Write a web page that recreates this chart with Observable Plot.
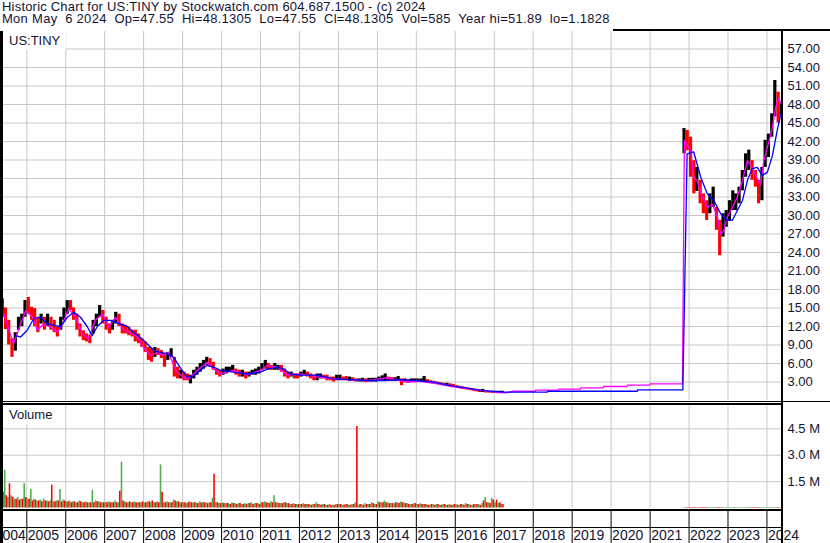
<!DOCTYPE html>
<html><head><meta charset="utf-8">
<script src="https://cdn.jsdelivr.net/npm/d3@7"></script>
<script src="https://cdn.jsdelivr.net/npm/@observablehq/plot@0.6"></script>
<style>
body{margin:0;background:#fff;font-family:"Liberation Sans",Arial,sans-serif;}
#wrap{position:relative;width:830px;height:543px;overflow:hidden;background:#fff;}
#title{position:absolute;left:2px;top:1px;font-size:13px;line-height:12px;white-space:pre;color:#141432;z-index:5;}
#title span{display:block;height:12px;line-height:12px;overflow:visible;}
#cover{position:absolute;left:0;top:0;width:613px;height:31px;background:#fff;z-index:4;}
.abs{position:absolute;left:0;}
.ln{position:absolute;background:#000;z-index:2;}
.lbl{position:absolute;font-size:13px;line-height:13px;color:#141432;background:#fff;z-index:3;white-space:pre;}
</style></head>
<body><div id="wrap">
<div id="cover"></div>
<div id="title"><span id="t1" style="letter-spacing:0.2px"></span><span id="t2" style="letter-spacing:0.28px"></span></div>
<div id="price" class="abs" style="top:30px"></div>
<div id="vol" class="abs" style="top:403px"></div>
<div id="years" class="abs" style="top:510px"></div>
<div class="ln" style="left:0;top:29px;width:830px;height:2px"></div>
<div class="ln" style="left:0;top:29px;width:3px;height:514px"></div>
<div class="ln" style="left:781px;top:29px;width:2px;height:514px"></div>
<div class="ln" style="left:0;top:400.5px;width:830px;height:1.5px"></div>
<div class="ln" style="left:0;top:403.3px;width:782px;height:1.4px"></div>
<div class="ln" style="left:0;top:508.5px;width:782px;height:2px"></div>
<div class="ln" style="left:0;top:526.7px;width:782px;height:1.3px"></div>
<div id="tick" class="lbl" style="left:3px;top:31px;padding:3px 6px 3px 6px"></div>
<div id="vlab" class="lbl" style="left:3px;top:405px;padding:3px 6px 3px 6px"></div>
</div>
<script>
// ---------- texts ----------
const titleLine1 = "Historic Chart for US:TINY by Stockwatch.com 604.687.1500 - (c) 2024";
const titleLine2 = "Mon May  6 2024  Op=47.55  Hi=48.1305  Lo=47.55  Cl=48.1305  Vol=585  Year hi=51.89  lo=1.1828";
const tickerLabel = "US:TINY";
const volumeLabel = "Volume";
const yearLabels = ["2004","2005","2006","2007","2008","2009","2010","2011","2012","2013","2014","2015","2016","2017","2018","2019","2020","2021","2022","2023","2024"];
const priceTicks = [3,6,9,12,15,18,21,24,27,30,33,36,39,42,45,48,51,54,57];
const volTicks = [1.5,3.0,4.5];

// ---------- monthly price data, segment A: 2004-05 .. 2017-03 ----------
const highA = [
16.5,15,13,10,11,13.5,14,16.2,
16.7,15.1,14.9,13.5,14,13.5,14,13.5,13,11.9,13.5,15,
16.2,16.2,15,14,12.4,11.3,10.8,10.5,13,14,15.4,14.6,
13.5,12.4,13,14.3,14,12.4,12.2,11.9,11.4,11.4,10.8,10,
9.5,8.6,8.4,8.6,8.4,8.1,7.6,7.8,8.4,7,5.4,4.9,
4.6,4.3,4.1,4.9,5.4,6,6.5,7,6.8,6.2,5.1,4.9,
5.1,5.4,5.4,5.7,5.1,4.9,4.9,4.6,4.6,4.9,5.1,5.4,
6,6.5,6,5.7,6,5.7,5.7,5.1,4.6,4.6,4.3,4.3,
4.6,4.9,4.6,4.3,4.1,4.3,4.3,4.1,4.1,3.8,3.8,4.1,
4.1,3.8,3.9,3.8,3.7,3.5,3.5,3.6,3.5,3.6,3.6,3.6,
3.8,4.0,4.3,3.8,3.7,3.7,3.9,3.5,3.5,3.4,3.5,3.5,
3.5,3.5,3.9,3.4,3.2,3.1,3.0,2.9,2.8,2.8,2.7,2.6,
2.4,2.3,2.2,2.1,2.0,1.9,1.8,1.7,1.8,1.6,1.5,1.5,
1.5,1.5,1.5];
const lowA = [
13.5,11.5,9,7,8,11.4,12,13.5,
14,13,12,11,12.4,11.4,12,11.4,11,10.3,11.4,13,
14,14.6,13,11.4,10.3,9.7,9.5,9.2,10.8,12,13.5,12.4,
11.4,10.8,11.4,12.4,12,10.8,10.8,10.5,10.3,9.5,9.2,8.6,
7.8,6.5,6.2,7,7.3,6.8,5.4,6.5,7,3.8,3.5,3.5,
3.2,3.2,2.7,3.5,4.1,4.6,5.1,5.7,5.4,4.9,4.1,3.8,
4.1,4.3,4.6,4.6,4.1,3.8,3.8,3.5,3.8,4.1,4.1,4.3,
4.9,5.1,4.9,4.9,4.9,4.9,4.6,3.8,3.5,3.8,3.5,3.5,
3.8,4.1,3.8,3.5,3.2,3.2,3.5,3.5,3.2,3.2,3.0,3.2,
3.2,3.2,3.2,3.1,3.1,3.0,3.0,3.0,2.9,3.0,3.0,3.0,
3.1,3.2,3.2,3.2,3.1,3.1,3.1,2.4,2.9,2.8,2.9,2.9,
3.0,3.0,3.0,2.9,2.8,2.7,2.6,2.5,2.4,2.4,2.3,2.2,
2.0,1.9,1.8,1.7,1.6,1.5,1.4,1.3,1.3,1.2,1.2,1.18,
1.2,1.2,1.2];
const closeA = [
14.5,12,10,8,10.5,13,13.5,15,
14.5,13.5,13,12,13.5,12.5,13.5,12.5,12,11,12.5,14.5,
15.5,15,14,12.5,11,10.5,10,9.7,12.5,13.5,14.8,13,
12.5,11.5,12.5,13.5,12.5,11.5,11.3,11,10.8,10,9.5,9,
8.5,7.2,7,8,7.8,7.3,6.3,7,7.8,5,4,4.2,
3.8,3.5,3.5,4.3,4.8,5.5,6,6.5,6,5.5,4.5,4.3,
4.6,5,5,5.2,4.6,4.3,4.3,4,4.2,4.5,4.7,5,
5.4,5.8,5.3,5.2,5.3,5.3,5.2,4.4,4,4.2,3.9,3.8,
4.2,4.5,4.2,3.9,3.6,3.8,3.9,3.8,3.7,3.5,3.3,3.6,
3.6,3.5,3.4,3.4,3.3,3.2,3.3,3.3,3.2,3.3,3.3,3.3,
3.4,3.6,3.7,3.5,3.4,3.4,3.5,3.1,3.2,3.1,3.2,3.2,
3.2,3.2,3.3,3.1,3.0,2.9,2.8,2.7,2.6,2.6,2.5,2.4,
2.2,2.1,2.0,1.9,1.8,1.7,1.6,1.5,1.5,1.4,1.3,1.3,
1.3,1.3,1.3];
// ---------- monthly price data, segment B: 2021-11 .. 2024-05 ----------
const highB = [44.1,43.8, 42.7,38.9,37.8,35.7,33.5,32.4,33.5,34.6,31.3,29.2,30.3,30.8,
 32.4,34,33.5,34.6,37.3,40,40.6,38.9,37.3,35.7,37.8,42.2, 43.2,46.5,51.89,50,48.13];
const lowB = [40,40.5, 36.2,33.5,33.9,31.9,30.3,29.2,30.3,31.3,27.6,23.5,26.5,28.1,
 29.2,30.8,30.8,31.9,34,36.2,37.3,35.7,34.6,31.9,32.4,37.8, 39.4,42.7,46,45,46];
const closeB = [43,42, 37,35,36,33,31,30,32,33,28,26,29,29,
 31,32,32,33,36,39,39,37,35,33,36,40, 42,45,48,46,48.13];

// ---------- monthly volume (millions) ----------
const volGreenA = [
0.8,2.15,0.6,0.7,0.5,0.6,0.5,1.38,
0.5,1.05,0.5,0.4,0.45,0.5,0.4,0.4,0.35,0.4,1.05,0.45,
0.35,0.4,0.35,0.3,0.4,0.3,0.35,0.3,1.0,0.4,0.35,0.3,
0.3,0.35,0.3,0.4,0.3,2.6,0.35,0.3,0.3,0.35,0.3,0.3,
0.3,0.35,0.3,0.3,0.35,2.45,0.3,0.35,0.3,0.45,0.35,0.3,
0.3,0.25,0.35,0.3,0.3,0.35,0.3,0.3,0.3,0.55,0.3,0.25,
0.3,0.25,0.25,0.3,0.25,0.25,0.2,0.25,0.25,0.3,0.25,0.25,
0.3,0.35,0.3,0.35,0.7,0.3,0.25,0.3,0.25,0.2,0.25,0.2,
0.2,0.25,0.2,0.2,0.2,0.3,0.2,0.2,0.15,0.2,0.15,0.2,
0.2,0.15,0.2,0.15,0.2,0.3,0.15,0.2,0.25,0.2,0.3,0.2,
0.35,0.3,0.4,0.3,0.25,0.25,0.3,0.35,0.3,0.25,0.2,0.25,
0.2,0.25,0.2,0.2,0.15,0.2,0.2,0.15,0.2,0.15,0.2,0.15,
0.2,0.15,0.2,0.25,0.2,0.15,0.2,0.2,0.25,0.6,0.3,0.55,
0.3,0.25,0.2];
const volRedA = [
0.9,0.7,1.38,0.6,0.5,0.45,0.5,0.6,
0.5,0.4,0.45,0.4,0.35,0.4,0.35,1.3,0.35,0.4,0.35,0.4,
0.35,0.3,0.35,0.3,0.35,0.3,0.3,0.3,0.3,0.35,0.3,0.3,
0.3,0.3,0.3,0.3,0.95,0.4,0.3,0.35,0.3,0.3,0.3,0.35,
0.3,0.35,0.4,0.3,0.3,0.9,0.3,0.3,0.3,0.4,0.35,0.3,
0.3,0.3,0.3,0.3,0.25,0.3,0.3,0.25,0.3,1.92,0.3,0.25,
0.25,0.25,0.2,0.25,0.2,0.25,0.2,0.2,0.25,0.2,0.25,0.2,
0.3,0.3,0.25,0.3,0.3,0.25,0.25,0.3,0.25,0.2,0.2,0.2,
0.2,0.2,0.2,0.15,0.2,0.2,0.15,0.2,0.15,0.15,0.15,0.2,
0.2,0.15,0.2,0.15,0.2,4.63,0.2,0.15,0.2,0.2,0.25,0.2,
0.3,0.3,0.3,0.25,0.25,0.3,0.25,0.3,0.25,0.2,0.2,0.25,
0.2,0.2,0.2,0.15,0.2,0.15,0.2,0.15,0.2,0.15,0.15,0.2,
0.15,0.2,0.15,0.2,0.15,0.2,0.2,0.15,0.4,0.3,0.25,0.45,
0.45,0.3,0.2];
const volB = [0.03,0.03,0.03,0.03,0.03,0.03,0.03,0.03,0.03,0.03,0.03,0.03,0.03,0.03,0.03,0.03,
0.03,0.03,0.03,0.03,0.03,0.03,0.03,0.03,0.03,0.03,0.03,0.03,0.03,0.03,0.03];

// ---------- moving averages (decimal year, value) ----------
const maFastT = [2004.41,2004.66,2004.97,2005.15,2005.27,2005.43,2005.61,2005.79,2005.92,2006.07,2006.25,2006.43,2006.58,2006.76,2006.94,
2007.10,2007.28,2007.46,2007.61,2007.84,2008.00,2008.18,2008.36,2008.51,2008.64,2008.82,2009.00,2009.15,2009.38,2009.64,2009.79,2009.97,
2010.30,2010.66,2011.00,2011.18,2011.44,2011.69,2012.03,2012.47,2012.88,2013.75,2014.26,2014.77,2015.10,2015.44,2015.88,2016.31,2016.72,
2017.08,2017.30,2017.49,2018.05,2018.06,2018.64,2018.65,2019.21,2019.22,2019.80,2019.81,2020.41,2020.42,2020.98,2020.99,2021.83,
2021.88,2022.04,2022.12,2022.21,2022.34,2022.47,2022.60,2022.73,2022.81,2022.89,2022.98,2023.11,2023.24,2023.37,2023.50,2023.62,
2023.75,2023.84,2023.92,2024.01,2024.14,2024.22,2024.30,2024.38];
const maFastV = [14,9.2,14.6,13.5,11.4,12.4,11.9,11.1,12.4,14.9,13.5,10.8,10,13,14,
11.9,13.5,11.6,11.1,10.3,8.6,7.3,7.8,7.3,7.8,4.9,3.8,3.5,4.9,6.2,5.1,4.3,
4.9,4.1,4.9,5.7,5.4,4.1,4.3,3.8,3.5,3.2,3.7,3.0,3.1,2.8,2.3,1.9,1.6,
1.3,1.25,1.5,1.5,1.67,1.67,1.83,1.83,2.06,2.06,2.27,2.27,2.48,2.48,2.7,2.7,
42.2,40.5,36.2,35.6,33,31.3,31.8,29.7,27,27.5,29.7,31.3,33,35.6,38.9,37.8,
36,35,38.9,41,44.3,47.5,49,48];
const maSlowT = [2004.71,2004.84,2005.01,2005.18,2005.35,2005.52,2005.69,2005.87,2006.04,2006.21,2006.38,2006.55,2006.68,2006.81,2006.98,
2007.15,2007.41,2007.58,2007.75,2007.92,2008.09,2008.26,2008.43,2008.60,2008.77,2008.95,2009.12,2009.29,2009.46,2009.63,2009.80,2009.97,
2010.31,2010.66,2011.00,2011.17,2011.43,2011.60,2011.77,2012.03,2012.46,2012.88,2013.31,2013.74,2014.17,2014.59,2015.02,
2015.44,2015.87,2016.31,2016.72,2017.26,2018.36,2018.37,2020.67,2020.68,2021.84,2021.95,2022.12,
2022.30,2022.47,2022.64,2022.81,2022.98,2023.11,2023.24,2023.37,2023.50,2023.62,2023.75,2023.88,2024.01,2024.14,2024.27,2024.36];
const maSlowV = [10.5,10.3,11.4,13.3,13.5,12.5,12.2,12,13.5,14.3,13.5,12,10.5,12,13,
13,12.4,12,11,10.2,9.2,8.1,7.8,7.6,7,5.2,3.8,4,4.9,5.7,5.4,4.9,
4.6,4.3,4.6,5.1,5.4,5.1,4.3,4.1,4.1,3.5,3.4,3.24,3.24,3.4,3.2,
3.0,2.4,2.0,1.6,1.35,1.35,1.5,1.5,1.73,1.73,40.0,40.3,
36.2,33.5,32.4,30.3,29.2,29.2,30.8,32.4,35.7,37.6,37.8,36.5,37,39.7,44,46.5];

// ---------- build tables ----------
const ink = "#141432";
const fy = t => { const y = Math.floor(t), a = Date.UTC(y,0,1), b = Date.UTC(y+1,0,1); return new Date(a + (t - y) * (b - a)); };
const midMonths = (y, m, n) => d3.range(n).map(i => d3.utcDay.offset(new Date(Date.UTC(y, m + i, 1)), 14));
const monthsA = midMonths(2004, 4, closeA.length);
const monthsB = midMonths(2021, 10, closeB.length);
const bars = [];
monthsA.forEach((d, i) => bars.push({date: d, hi: highA[i], lo: lowA[i], up: i === 0 || closeA[i] >= closeA[i-1]}));
monthsB.forEach((d, i) => bars.push({date: d, hi: highB[i], lo: lowB[i], up: i === 0 || closeB[i] >= closeB[i-1]}));
const volG = monthsA.map((d, i) => ({date: d, v: volGreenA[i]}));
const volR = monthsA.map((d, i) => ({date: d, v: volRedA[i]}));
const volLate = monthsB.map((d, i) => ({date: d, v: volB[i], c: (i === 0 || closeB[i] >= closeB[i-1]) ? "#4caf50" : "#ff0000"}));
const maFast = maFastT.map((t, i) => ({date: fy(t), v: maFastV[i]}));
const maSlow = maSlowT.map((t, i) => ({date: fy(t), v: maSlowV[i]}));
const yearStarts = yearLabels.map(y => new Date(Date.UTC(+y, 0, 1)));
const gridYears = yearStarts.slice(1);

const xDomain = [new Date(Date.UTC(2004,4,18)), new Date(Date.UTC(2024,4,26))];
const common = {width: 830, marginLeft: 2, marginRight: 48,
  x: {type: "utc", domain: xDomain, axis: null},
  style: {fontSize: "13px", fontFamily: "Liberation Sans, Arial, sans-serif", color: ink, background: "transparent", overflow: "hidden"}};

document.getElementById("t1").textContent = titleLine1;
document.getElementById("t2").textContent = titleLine2;
document.getElementById("tick").textContent = tickerLabel;
document.getElementById("vlab").textContent = volumeLabel;

const price = Plot.plot({...common, height: 373, marginTop: 0, marginBottom: 3,
  y: {domain: [0, 60], axis: null},
  marks: [
    Plot.ruleY(priceTicks, {stroke: "#c8c8c8", strokeWidth: 1}),
    Plot.ruleX(gridYears, {stroke: "#c8c8c8", strokeWidth: 1}),
    Plot.ruleX(bars, {x: "date", y1: "lo", y2: "hi", stroke: d => d.up ? "#000000" : "#ff0000", strokeWidth: 3.2}),
    Plot.line(maFast, {x: "date", y: "v", stroke: "#ff00ff", strokeWidth: 1.3}),
    Plot.line(maSlow, {x: "date", y: "v", stroke: "#0000ff", strokeWidth: 1.3}),
    Plot.axisY(priceTicks, {anchor: "right", label: null, tickSize: 0, tickPadding: 5, tickFormat: d => d.toFixed(2), textAnchor: "start", fill: ink})
  ]});
document.getElementById("price").appendChild(price);

const vol = Plot.plot({...common, height: 106, marginTop: 0, marginBottom: 1.5,
  y: {domain: [0, 5.94], axis: null},
  marks: [
    Plot.ruleY(volTicks, {stroke: "#c8c8c8", strokeWidth: 1}),
    Plot.ruleX(gridYears, {stroke: "#c8c8c8", strokeWidth: 1}),
    Plot.ruleX(volG, {x: "date", y1: 0, y2: "v", stroke: "#4caf50", dx: -0.8, strokeWidth: 1.6}),
    Plot.ruleX(volR, {x: "date", y1: 0, y2: "v", stroke: "#ff0000", dx: 0.8, strokeWidth: 1.6}),
    Plot.ruleX(volLate, {x: "date", y1: 0, y2: "v", stroke: "c", strokeWidth: 3.2}),
    Plot.axisY(volTicks, {anchor: "right", label: null, tickSize: 0, tickPadding: 5, tickFormat: d => d.toFixed(1) + " M", textAnchor: "start", fill: ink})
  ]});
document.getElementById("vol").appendChild(vol);

// first (partial) year label is right-aligned against the next year line; the others start at their year line
const firstYear = [yearLabels[0]], otherYears = yearLabels.slice(1);
const years = Plot.plot({...common, height: 33, marginTop: 0, marginBottom: 0,
  marks: [
    Plot.ruleX(gridYears, {stroke: "#000", strokeWidth: 1}),
    Plot.text(firstYear, {x: () => yearStarts[1], text: d => d, frameAnchor: "bottom", lineAnchor: "bottom", textAnchor: "end", dx: -1, dy: -3.5, fill: ink, fontSize: 14}),
    Plot.text(otherYears, {x: (d, i) => yearStarts[i + 1], text: d => d, frameAnchor: "bottom", lineAnchor: "bottom", textAnchor: "start", dx: 1, dy: -3.5, fill: ink, fontSize: 14})
  ]});
document.getElementById("years").appendChild(years);
</script>
</body></html>
